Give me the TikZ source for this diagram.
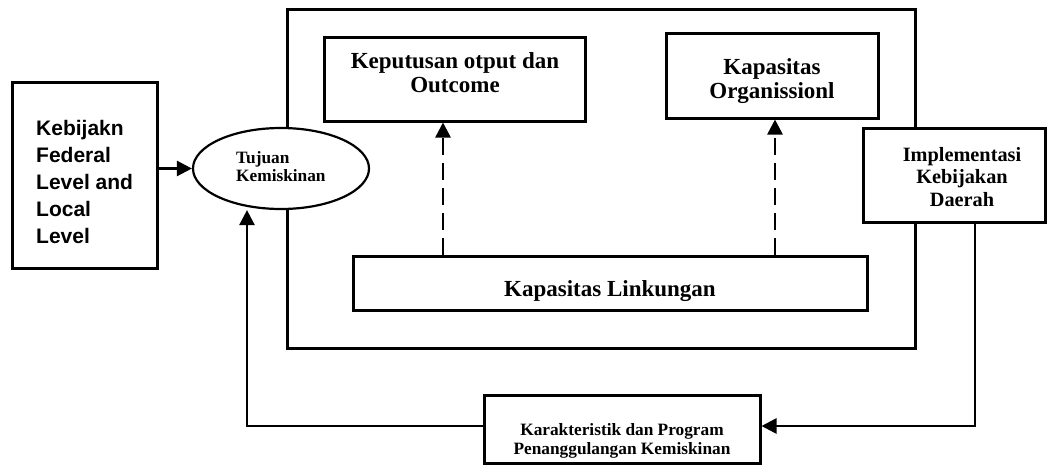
\documentclass[tikz,border=0pt]{standalone}
\usepackage{fontspec}
\setmainfont{Liberation Serif}
\newfontfamily\arialfont{Liberation Sans}
\usetikzlibrary{arrows.meta,shapes.geometric}
\begin{document}
\begin{tikzpicture}[x=1pt,y=-1pt,
  box/.style={draw, line width=3pt, fill=white, inner sep=0pt},
  txt/.style={align=center, inner sep=0pt},
  bigf/.style={font=\fontsize{23}{23.8}\selectfont\bfseries},
  midf/.style={font=\fontsize{20.3}{22.3}\selectfont\bfseries},
  smallf/.style={font=\fontsize{17.3}{18.7}\selectfont\bfseries},
  arr/.style={line width=2.6pt, -{Triangle[length=15pt,width=15pt]}},
  darr/.style={arr, dash pattern=on 17pt off 8pt}]
\useasboundingbox (0,0) rectangle (1047,464);
% outer frame
\node[box, fill=none, minimum width=628pt, minimum height=339pt] (outer) at (601,178.5) {};
% left box
\node[box, minimum width=145pt, minimum height=186pt] (left) at (84.5,175) {};
\node[txt, align=left, anchor=west, font=\arialfont\fontsize{21}{27}\selectfont\bfseries] (left-t) at (36,181.5) {Kebijakn\\Federal\\Level and\\Local\\Level};
% ellipse
\node[ellipse, draw, line width=2.2pt, fill=white, inner sep=0pt, minimum width=176pt, minimum height=81pt] (ell) at (281,168.5) {};
\node[txt, smallf, align=left, anchor=west] (ell-t) at (236,166.5) {Tujuan\\Kemiskinan};
% inner boxes
\node[box, minimum width=261pt, minimum height=84pt] (kep) at (454.5,79) {};
\node[txt, bigf] (kep-t) at (455,73) {Keputusan otput dan\\Outcome};
\node[box, minimum width=212pt, minimum height=85pt] (org) at (772,75.5) {};
\node[txt, bigf] (org-t) at (772,81) {Kapasitas\\Organissionl};
\node[box, minimum width=514pt, minimum height=54pt] (link) at (610,283) {};
\node[txt, bigf] (link-t) at (610,291) {Kapasitas Linkungan};
% implementation box
\node[box, minimum width=182pt, minimum height=94pt] (impl) at (954,175) {};
\node[txt, midf] (impl-t) at (962,177) {Implementasi\\Kebijakan\\Daerah};
% bottom box
\node[box, minimum width=276pt, minimum height=68pt] (bot) at (622,429) {};
\node[txt, smallf] (bot-t) at (622,441) {Karakteristik dan Program\\Penanggulangan Kemiskinan};
% connectors
\draw[arr] (left.east |- ell.west) -- (ell.west);
\coordinate (fbc) at (247,426);
\draw[arr] (bot.west |- fbc) -- (fbc) -- (fbc |- ell.south);
\coordinate (rc) at (975,426);
\draw[arr] (impl.south -| rc) -- (rc) -- (rc -| bot.east);
\coordinate (d1) at (443,0);
\coordinate (d2) at (775,0);
\draw[darr] (link.north -| d1) -- (kep.south -| d1);
\draw[darr] (link.north -| d2) -- (org.south -| d2);
\end{tikzpicture}
\end{document}
